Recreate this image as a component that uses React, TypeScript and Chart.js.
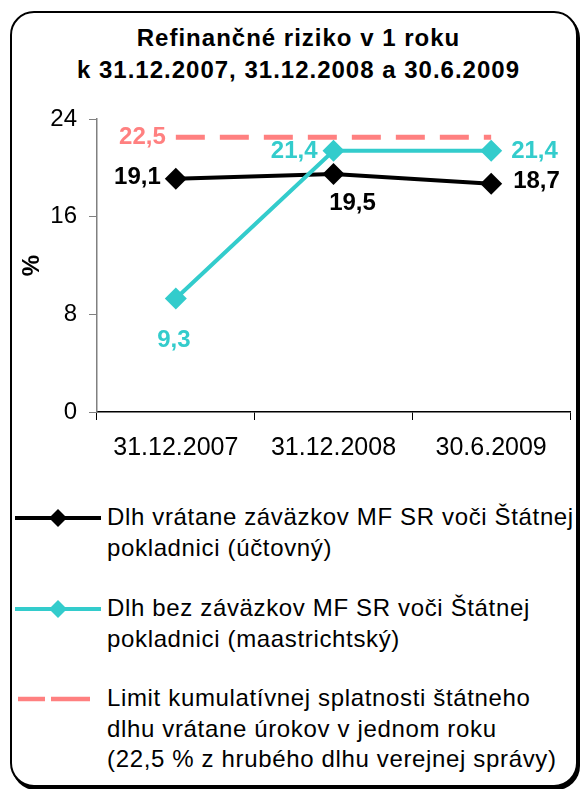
import React, { useEffect, useRef } from "react";
import { Chart, registerables } from "chart.js";

Chart.register(...registerables);

const FONT = "'Liberation Sans', Arial, Helvetica, sans-serif";

const titleLines = ["Refinančné riziko v 1 roku", "k 31.12.2007, 31.12.2008 a 30.6.2009"];
const categories = ["31.12.2007", "31.12.2008", "30.6.2009"];
const debtAccounting = [19.1, 19.5, 18.7];
const debtMaastricht = [9.3, 21.4, 21.4];
const limitValues = [22.5, 22.5, 22.5];
const yTickValues = [0, 8, 16, 24];
const yAxisTitle = "%";
const seriesNames = [
  ["Dlh vrátane záväzkov MF SR voči Štátnej", "pokladnici (účtovný)"],
  ["Dlh bez záväzkov MF SR voči Štátnej", "pokladnici (maastrichtský)"],
  [
    "Limit kumulatívnej splatnosti štátneho",
    "dlhu vrátane úrokov v jednom roku",
    "(22,5 % z hrubého dlhu verejnej správy)",
  ],
];

const BLACK = "#000000";
const TEAL = "#33CCCC";
const SALMON = "#FF8080";

// label placement (style only): [dx, dy, align] per dataset per point; null = no label
const labelPlacement: (null | [number, number, CanvasTextAlign])[][] = [
  [[-15, -1, "right"], [19, 29, "center"], [22, -2, "left"]],
  [[-2, 42, "center"], [-16, 1, "right"], [20, 1, "left"]],
  [[-10, 0, "right"], null, null],
];
const labelColors = [BLACK, TEAL, SALMON];

const fmt = (v: number) => v.toFixed(1).replace(".", ",");

const labelPlugin = {
  id: "valueLabels",
  afterDatasetsDraw(chart: any) {
    const ctx = chart.ctx;
    ctx.save();
    ctx.font = `bold 24px ${FONT}`;
    ctx.textBaseline = "middle";
    chart.data.datasets.forEach((ds: any, di: number) => {
      const meta = chart.getDatasetMeta(di);
      meta.data.forEach((pt: any, i: number) => {
        const pl = labelPlacement[di][i];
        if (!pl) return;
        ctx.fillStyle = labelColors[di];
        ctx.textAlign = pl[2];
        ctx.fillText(fmt(ds.data[i]), pt.x + pl[0], pt.y + pl[1]);
      });
    });
    ctx.restore();
  },
};

function LegendSymbol({ kind }: { kind: number }) {
  if (kind === 2) {
    return (
      <svg width="100" height="12" style={{ position: "absolute", left: 0, top: -6 }}>
        <line x1="18" y1="6" x2="45" y2="6" stroke={SALMON} strokeWidth="4.5" />
        <line x1="51" y1="6" x2="90" y2="6" stroke={SALMON} strokeWidth="4.5" />
      </svg>
    );
  }
  const c = kind === 0 ? BLACK : TEAL;
  return (
    <svg width="104" height="24" style={{ position: "absolute", left: 0, top: -12 }}>
      <line x1="15" y1="12" x2="101" y2="12" stroke={c} strokeWidth="4" />
      <polygon points="58,3 67,12 58,21 49,12" fill={c} />
    </svg>
  );
}

export default function App() {
  const canvasRef = useRef<HTMLCanvasElement | null>(null);

  useEffect(() => {
    if (!canvasRef.current) return;
    const chart = new Chart(canvasRef.current, {
      type: "line",
      data: {
        labels: categories,
        datasets: [
          {
            label: seriesNames[0].join(" "),
            data: debtAccounting,
            borderColor: BLACK,
            backgroundColor: BLACK,
            borderWidth: 4,
            pointStyle: "rectRot",
            pointRadius: 11,
            pointBorderWidth: 0,
            pointBackgroundColor: BLACK,
            pointBorderColor: BLACK,
            order: 2,
          },
          {
            label: seriesNames[1].join(" "),
            data: debtMaastricht,
            borderColor: TEAL,
            backgroundColor: TEAL,
            borderWidth: 4,
            pointStyle: "rectRot",
            pointRadius: 11,
            pointBorderWidth: 0,
            pointBackgroundColor: TEAL,
            pointBorderColor: TEAL,
            order: 1,
          },
          {
            label: seriesNames[2].join(" "),
            data: limitValues,
            borderColor: SALMON,
            backgroundColor: SALMON,
            borderWidth: 5,
            borderDash: [29, 15],
            borderCapStyle: "butt",
            pointRadius: 0,
            order: 3,
          },
        ],
      },
      options: {
        responsive: false,
        animation: false,
        devicePixelRatio: 1,
        layout: { padding: { left: 0, right: 2, top: 119, bottom: 0 } },
        plugins: {
          legend: { display: false },
          title: { display: false },
          tooltip: { enabled: false },
        },
        scales: {
          x: {
            offset: true,
            grid: {
              offset: true,
              drawOnChartArea: false,
              drawTicks: true,
              tickLength: 8,
              color: BLACK,
              lineWidth: 1,
            },
            border: { color: BLACK, width: 1.5 },
            ticks: {
              color: BLACK,
              font: { family: FONT, size: 25 },
              padding: 13,
              maxRotation: 0,
            },
            afterFit: (s: any) => {
              s.height = 68;
            },
          },
          y: {
            min: 0,
            max: 24,
            afterBuildTicks: (s: any) => {
              s.ticks = yTickValues.map((v) => ({ value: v }));
            },
            grid: {
              drawOnChartArea: false,
              drawTicks: true,
              tickLength: 8,
              color: "#808080",
              lineWidth: 1,
            },
            border: { color: "#808080", width: 1.5 },
            ticks: {
              color: BLACK,
              font: { family: FONT, size: 24 },
              padding: 12,
            },
            title: {
              display: true,
              text: yAxisTitle,
              color: BLACK,
              font: { family: FONT, size: 24, weight: "bold" },
              padding: { top: 18, bottom: 0 },
            },
            afterFit: (s: any) => {
              s.width = 97;
            },
          },
        },
      },
      plugins: [labelPlugin],
    } as any);
    return () => chart.destroy();
  }, []);

  const legendTops = [502, 593, 683];

  return (
    <div
      style={{
        position: "absolute",
        left: 0,
        top: 0,
        width: 581,
        height: 789,
        overflow: "hidden",
        fontFamily: FONT,
        background: "#fff",
      }}
    >
      <div
        style={{
          position: "absolute",
          left: 10,
          top: 11,
          width: 568,
          height: 776,
          boxSizing: "border-box",
          border: "2px solid #000",
          borderRadius: 24,
          boxShadow: "2px 3px 0 0 #000",
          background: "#fff",
        }}
      />
      <div
        style={{
          position: "absolute",
          left: 0,
          width: 597,
          top: 22,
          textAlign: "center",
          fontWeight: "bold",
          fontSize: 24,
          lineHeight: "32px",
          letterSpacing: "1px",
          color: "#000",
          whiteSpace: "nowrap",
        }}
      >
        {titleLines.map((t, i) => (
          <div key={i}>{t}</div>
        ))}
      </div>
      <canvas
        ref={canvasRef}
        width={581}
        height={480}
        style={{ position: "absolute", left: 0, top: 0, width: 581, height: 480 }}
      />
      {seriesNames.map((lines, i) => (
        <div key={i} style={{ position: "absolute", left: 0, top: legendTops[i], width: 581 }}>
          <div style={{ position: "absolute", left: 0, top: 16 }}>
            <LegendSymbol kind={i} />
          </div>
          <div
            style={{
              position: "absolute",
              left: 107,
              top: 0,
              fontSize: 24,
              lineHeight: "30.5px",
              letterSpacing: "0.65px",
              color: "#000",
              whiteSpace: "nowrap",
            }}
          >
            {lines.map((l, j) => (
              <div key={j}>{l}</div>
            ))}
          </div>
        </div>
      ))}
    </div>
  );
}
